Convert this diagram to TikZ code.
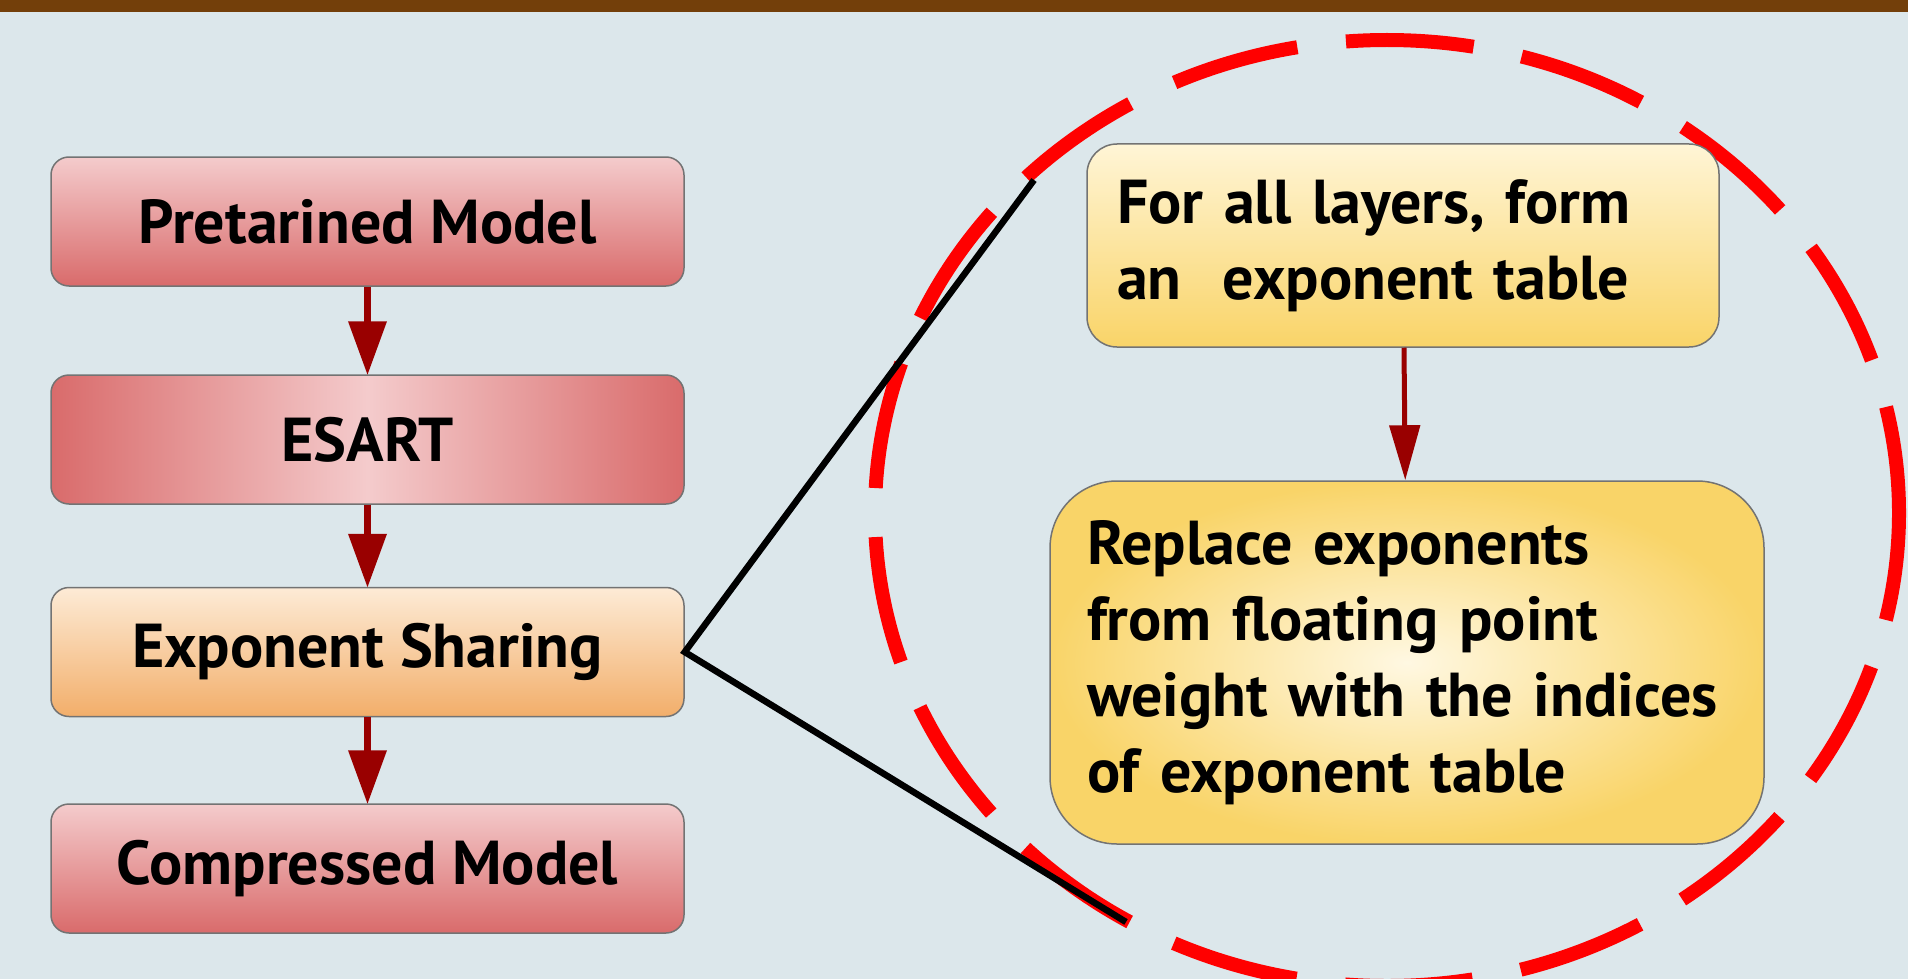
\documentclass[tikz,border=0pt]{standalone}
\usepackage{fontspec}
\setmainfont{PT Sans}
\usetikzlibrary{arrows.meta}
\definecolor{bgc}{HTML}{DCE7EB}
\definecolor{barc}{HTML}{733F0A}
\definecolor{pinkL}{HTML}{F4CBCC}
\definecolor{pinkD}{HTML}{D96B6B}
\definecolor{orL}{HTML}{FDEBD6}
\definecolor{orD}{HTML}{F2AE6A}
\definecolor{yeL}{HTML}{FFF5D6}
\definecolor{yeD}{HTML}{F9D468}
\definecolor{yeC}{HTML}{FFF8E2}
\definecolor{arrc}{HTML}{990000}
\tikzset{
  lbox/.style={draw=black!55, line width=1.5pt, rounded corners=18pt,
    minimum width=633pt, minimum height=129pt, inner sep=0pt,
    font=\fontsize{62}{72}\selectfont\bfseries},
  pinkv/.style={top color=pinkL, bottom color=pinkD},
  flowarrow/.style={draw=arrc, line width=7pt, -{Triangle[width=37pt,length=54pt]}, shorten >=-1pt},
  rbox/.style={draw=black!55, line width=1.5pt, inner ysep=0pt, align=left,
    font=\fontsize{62}{76}\selectfont\bfseries},
}
\begin{document}
\begin{tikzpicture}[x=1pt,y=-1pt]
\useasboundingbox (0,0) rectangle (1908,979);
\fill[bgc] (0,0) rectangle (1908,979);
\fill[barc] (0,0) rectangle (1908,12);
% dashed circle
\draw[red, line width=14pt, dash pattern=on 128pt off 49pt, dash phase=20pt] (1387,513) ellipse [x radius=512, y radius=473];
% left flow
\node[lbox, pinkv] (pm) at (367.5,221.5) {Pretarined Model};
\node[lbox, left color=pinkD, right color=pinkD, middle color=pinkL] (es) at (367.5,439.5) {ESART};
\node[lbox, top color=orL, bottom color=orD] (xs) at (367.5,652) {Exponent Sharing};
\node[lbox, pinkv] (cm) at (367.5,868.5) {Compressed Model};
\draw[flowarrow] (pm) -- (es);
\draw[flowarrow] (es) -- (xs);
\draw[flowarrow] (xs) -- (cm);
% zoom lines
\coordinate (zt) at (1034,180);
\coordinate (zb) at (1126,922);
\draw[black, line width=6.5pt] (zt) -- (xs.east) -- (zb);
% right boxes
\node[rbox, rounded corners=30pt, top color=yeL, bottom color=yeD,
  text width=572pt, inner xsep=30pt, minimum height=203pt] (fa) at (1403,245.5)
  {For all layers, form\\an\ \ exponent table};
\node[rbox, rounded corners=67pt, shading=radial, inner color=yeC, outer color=yeD,
  text width=640pt, inner xsep=37pt, minimum height=363pt] (rp) at (1407,662.5)
  {Replace exponents\\from floating point\\weight with the indices\\of exponent table};
\draw[draw=arrc, line width=5pt, -{Triangle[width=30pt,length=55pt]}] (fa) -- (rp);
\end{tikzpicture}
\end{document}
